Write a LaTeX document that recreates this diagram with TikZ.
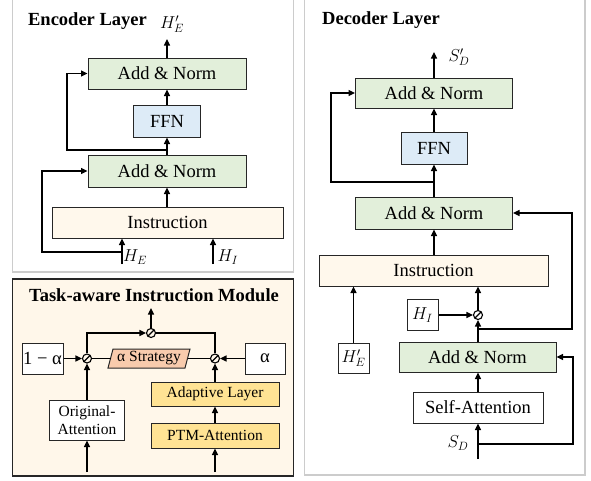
\documentclass[tikz,border=0pt]{standalone}
\usepackage{fontspec}
\setmainfont{Liberation Serif}
\usetikzlibrary{arrows.meta}
\definecolor{gfill}{HTML}{E2EFDA}
\definecolor{bfill}{HTML}{DDEBF7}
\definecolor{ifill}{HTML}{FFF8EC}
\definecolor{pfill}{HTML}{FFF7EA}
\definecolor{yfill}{HTML}{FFE394}
\definecolor{sfill}{HTML}{F8CBAD}
\definecolor{pgray}{HTML}{CCCCCC}
\begin{document}
\begin{tikzpicture}[x=1pt,y=-1pt,
  box/.style={draw=black!85,line width=1pt,inner sep=0pt,font=\fontsize{18.5}{20}\selectfont},
  sbox/.style={draw=black!85,line width=1pt,inner sep=0pt,font=\fontsize{15.5}{17}\selectfont},
  arr/.style={-{Triangle[length=6.5pt,width=6pt]},line width=1.2pt},
  ln/.style={line width=1.2pt},
  op/.style={circle,draw,line width=1.1pt,minimum size=9pt,inner sep=0pt,
    path picture={\draw[line width=1.1pt] (path picture bounding box.south west) -- (path picture bounding box.north east);}},
  ttl/.style={font=\bfseries\fontsize{18.5}{20}\selectfont,inner sep=0pt},
  lbl/.style={font=\fontsize{17}{19}\selectfont,inner sep=0pt},
  panel/.style={draw=pgray,line width=1.5pt}]
\useasboundingbox (0,0) rectangle (591,480);

% ---------------- Encoder panel ----------------
\draw[panel] (12.5,-3) rectangle (293.5,272);
\node[ttl] (etitle) at (87.5,21) {Encoder Layer};
\node[box,fill=gfill,minimum width=158pt,minimum height=31pt] (ea2) at (167,73.5) {Add \& Norm};
\node[box,fill=bfill,minimum width=67pt,minimum height=32pt] (effn) at (167,121) {FFN};
\node[box,fill=gfill,minimum width=158pt,minimum height=32pt] (ea1) at (167,171) {Add \& Norm};
\node[box,fill=ifill,minimum width=231pt,minimum height=31pt] (einst) at (167.5,222.5) {Instruction};
\coordinate (eout) at (167,39);
\node[lbl] (lhep) at (172,24) {$H_E'$};
\draw[arr] (ea2.north) -- (eout);
\draw[arr] (effn.north) -- (ea2.south);
\draw[arr] (ea1.north) -- (effn.south);
\draw[arr] (einst.north -| ea1) -- (ea1.south);
\coordinate (eb2) at (167,150);
\draw[arr] (eb2) -- (67,150) -- (67,73.5) -- (ea2.west);
\coordinate (ehe) at (122,264);
\coordinate (ehi) at (213,264);
\draw[arr] (ehe) -- (ehe |- einst.south);
\draw[arr] (ehi) -- (ehi |- einst.south);
\coordinate (eb1) at (122,252);
\draw[arr] (eb1) -- (42,252) -- (42,171) -- (ea1.west);
\node[lbl] (lhe) at (135,257) {$H_E$};
\node[lbl] (lhi) at (228,257) {$H_I$};

% ---------------- Task-aware module ----------------
\draw[fill=pfill,draw=black!85,line width=1.2pt] (12.5,279) rectangle (293.5,476);
\node[ttl] (ttitle) at (154,295) {Task-aware Instruction Module};
\node[op] (ct) at (151,333) {};
\node[op] (cl) at (87,358.5) {};
\node[op] (cr) at (215,358.5) {};
\node[box,fill=white,minimum width=41pt,minimum height=31pt] (b1a) at (42.5,358.5) {1 − α};
\node[box,fill=white,minimum width=40pt,minimum height=31pt] (ba) at (265,358.5) {α};
\draw[fill=sfill,draw=black!85,line width=1pt] (108,368) -- (113,349) -- (190,349) -- (185,368) -- cycle;
\node[font=\fontsize{15.5}{17}\selectfont,inner sep=0pt] (strat) at (149,358.5) {α Strategy};
\coordinate (sl) at (110.5,358.5);
\coordinate (sr) at (187.5,358.5);
\node[sbox,fill=white,minimum width=75pt,minimum height=40pt,align=center,font=\fontsize{15.5}{18.5}\selectfont] (oa) at (87,420) {Original-\\Attention};
\node[sbox,fill=yfill,minimum width=128pt,minimum height=24pt] (ada) at (215,394) {Adaptive Layer};
\node[sbox,fill=yfill,minimum width=128pt,minimum height=25pt] (ptm) at (215,435.5) {PTM-Attention};
\coordinate (tin1) at (87,472);
\coordinate (tin2) at (215,472);
\coordinate (tout) at (151,308);
\draw[arr] (tin1) -- (oa.south);
\draw[arr] (tin2) -- (ptm.south);
\draw[arr] (ptm.north) -- (ada.south);
\draw[arr] (ada.north) -- (cr.south);
\draw[arr] (oa.north) -- (cl.south);
\draw[arr] (b1a.east) -- (cl.west);
\draw[arr] (ba.west) -- (cr.east);
\draw[ln] (cl.east) -- (sl);
\draw[ln] (sr) -- (cr.west);
\draw[arr] (cl.north) -- (87,333) -- (ct.west);
\draw[ln] (cr.north) -- (215,333) -- (ct.east);
\draw[arr] (ct.north) -- (tout);

% ---------------- Decoder panel ----------------
\draw[panel] (304.5,-3) rectangle (585,475);
\node[ttl] (dtitle) at (381,20) {Decoder Layer};
\node[box,fill=gfill,minimum width=157pt,minimum height=30pt] (da2) at (434,93) {Add \& Norm};
\node[box,fill=bfill,minimum width=66pt,minimum height=32pt] (dffn) at (434,148) {FFN};
\node[box,fill=gfill,minimum width=157pt,minimum height=32pt] (da1) at (434,213) {Add \& Norm};
\node[box,fill=ifill,minimum width=229pt,minimum height=31pt] (dinst) at (433.5,270.5) {Instruction};
\node[box,fill=white,minimum width=31pt,minimum height=30pt,font=\fontsize{17}{19}\selectfont] (dhep) at (353.5,358) {$H_E'$};
\node[box,fill=white,minimum width=31pt,minimum height=31pt,font=\fontsize{17}{19}\selectfont] (dhi) at (422.5,315) {$H_I$};
\node[op] (cd) at (478,315) {};
\node[box,fill=gfill,minimum width=157pt,minimum height=30pt] (da0) at (477.5,357) {Add \& Norm};
\node[box,fill=white,minimum width=130pt,minimum height=31pt] (sa) at (478,407.5) {Self-Attention};
\coordinate (dout) at (434,52);
\node[lbl] (lsdp) at (459,57) {$S_D'$};
\draw[arr] (da2.north) -- (dout);
\draw[arr] (dffn.north) -- (da2.south);
\draw[arr] (da1.north) -- (dffn.south);
\draw[arr] (dinst.north -| da1) -- (da1.south);
\coordinate (db2) at (434,182);
\draw[arr] (db2) -- (331,182) -- (331,93) -- (da2.west);
\draw[arr] (dhep.north) -- (dhep.north |- dinst.south);
\draw[arr] (dhi.east) -- (cd.west);
\draw[arr] (cd.north) -- (cd.north |- dinst.south);
\draw[arr] (da0.north -| cd) -- (cd.south);
\coordinate (db1) at (478,329);
\draw[arr] (db1) -- (572,329) -- (572,213) -- (da1.east);
\draw[arr] (sa.north) -- (sa.north |- da0.south);
\coordinate (dsd) at (478,459);
\draw[arr] (dsd) -- (sa.south);
\coordinate (db0) at (478,444);
\draw[arr] (db0) -- (573,444) -- (573,357) -- (da0.east);
\node[lbl] (lsd) at (458,443) {$S_D$};
\end{tikzpicture}
\end{document}
